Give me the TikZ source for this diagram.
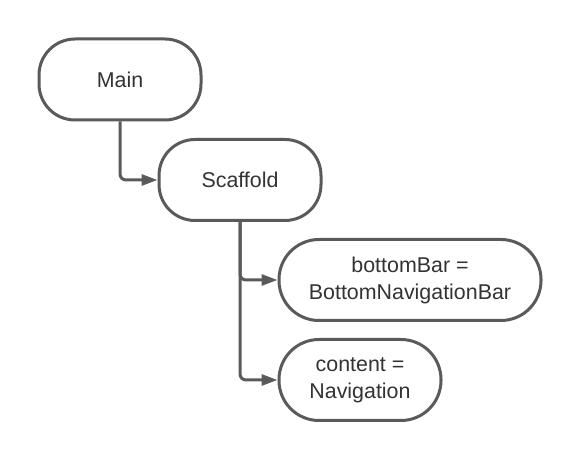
\documentclass[tikz,border=0pt]{standalone}
\usepackage{fontspec}
\setmainfont{Liberation Sans}
\usetikzlibrary{arrows.meta,positioning}

\definecolor{linegray}{HTML}{5A5A5A}
\definecolor{textgray}{HTML}{333333}

\begin{document}
\begin{tikzpicture}[
    x=0.5pt, y=-0.5pt,
    term/.style={draw=linegray, line width=1.5pt, rounded corners=18pt, minimum width=81pt, minimum height=40.5pt, align=center, text=textgray, font=\fontsize{10.7}{13.5}\selectfont, fill=white},
    arr/.style={-{Triangle[length=8pt,width=5.5pt]}, draw=linegray, line width=1.5pt, rounded corners=3pt}
]
\useasboundingbox (0,0) rectangle (580,460);
\node[term] (main) at (120,79.5) {Main};
\node[term] (scaffold) at (240,180) {Scaffold};
\node[term, minimum width=131pt, rounded corners=20pt] (bbar) at (410,280) {bottomBar =\\BottomNavigationBar};
\node[term, rounded corners=20pt] (cont) at (360,380) {content =\\Navigation};

\draw[arr] (main.south) |- (scaffold.west);
\draw[arr] (scaffold.south) |- (bbar.west);
\draw[arr] (scaffold.south) |- (cont.west);
\end{tikzpicture}
\end{document}
